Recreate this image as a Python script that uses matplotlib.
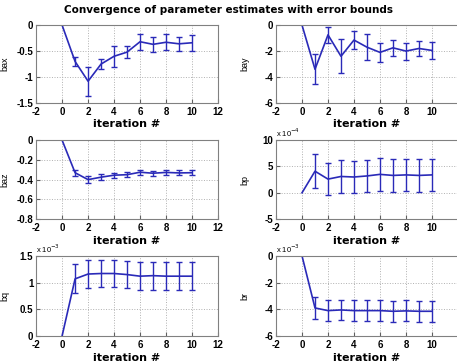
import numpy as np
import matplotlib
matplotlib.use('Agg')
import matplotlib.pyplot as plt

plt.rcParams['font.family'] = ['Liberation Sans', 'DejaVu Sans']

# Dados
it = np.arange(0, 11)

bax = [0, -0.70, -1.08, -0.75, -0.60, -0.52, -0.32, -0.37, -0.33, -0.36, -0.34]
bax_err = [0, 0.09, 0.28, 0.09, 0.20, 0.12, 0.15, 0.15, 0.15, 0.14, 0.15]

bay = [0, -3.4, -0.75, -2.4, -1.15, -1.7, -2.1, -1.75, -2.0, -1.8, -1.95]
bay_err = [0, 1.15, 0.6, 1.3, 0.7, 1.0, 0.75, 0.6, 0.65, 0.6, 0.65]

baz = [0, -0.33, -0.40, -0.375, -0.355, -0.35, -0.325, -0.335, -0.327, -0.332, -0.33]
baz_err = [0, 0.03, 0.035, 0.027, 0.027, 0.025, 0.025, 0.025, 0.025, 0.025, 0.025]

bp = [0, 4.1, 2.6, 3.1, 3.0, 3.2, 3.5, 3.3, 3.4, 3.3, 3.4]      # x 1e-4
bp_err = [0, 3.2, 3.0, 3.1, 3.1, 3.1, 3.1, 3.1, 3.1, 3.1, 3.1]

bq = [0, 1.07, 1.16, 1.17, 1.17, 1.15, 1.12, 1.13, 1.12, 1.12, 1.12]   # x 1e-3
bq_err = [0, 0.27, 0.26, 0.26, 0.26, 0.26, 0.26, 0.26, 0.26, 0.26, 0.26]

br = [0, -3.9, -4.1, -4.05, -4.1, -4.1, -4.1, -4.15, -4.12, -4.15, -4.15]  # x 1e-3
br_err = [0, 0.85, 0.78, 0.78, 0.78, 0.78, 0.78, 0.78, 0.78, 0.78, 0.78]

xticks = [-2, 0, 2, 4, 6, 8, 10, 12]

paineis = [
    ('bax', bax, bax_err, (-1.5, 0), [-1.5, -1, -0.5, 0], ['-1.5', '-1', '-0.5', '0'], None),
    ('bay', bay, bay_err, (-6, 0), [-6, -4, -2, 0], ['-6', '-4', '-2', '0'], None),
    ('baz', baz, baz_err, (-0.8, 0), [-0.8, -0.6, -0.4, -0.2, 0], ['-0.8', '-0.6', '-0.4', '-0.2', '0'], None),
    ('bp', bp, bp_err, (-5, 10), [-5, 0, 5, 10], ['-5', '0', '5', '10'], '-4'),
    ('bq', bq, bq_err, (0, 1.5), [0, 0.5, 1, 1.5], ['0', '0.5', '1', '1.5'], '-3'),
    ('br', br, br_err, (-6, 0), [-6, -4, -2, 0], ['-6', '-4', '-2', '0'], '-3'),
]

posicoes = [
    [0.079, 0.717, 0.398, 0.214], [0.604, 0.717, 0.398, 0.214],
    [0.079, 0.398, 0.398, 0.217], [0.604, 0.398, 0.398, 0.217],
    [0.079, 0.077, 0.398, 0.220], [0.604, 0.077, 0.398, 0.220],
]

cor = '#2a2ab8'
fig = plt.figure(figsize=(4.57, 3.64), dpi=100)

for i, ((nome, y, e, ylim, yt, ytl, exp), pos) in enumerate(zip(paineis, posicoes)):
    ax = fig.add_axes(pos)
    ax.plot(it, y, color=cor, lw=1.2)
    ax.errorbar(it[1:], y[1:], yerr=e[1:], fmt='none', ecolor=cor,
                elinewidth=1.0, capsize=2, capthick=1.0)
    ax.set_xlim(-2, 12)
    ax.set_ylim(*ylim)
    ax.set_xticks(xticks)
    xtl = [str(v) for v in xticks]
    if i % 2 == 1:
        xtl[-1] = ''   # fica fora da imagem na direita
    ax.set_xticklabels(xtl)
    ax.set_yticks(yt)
    ax.set_yticklabels(ytl)
    ax.grid(True, linestyle=':', color='#b0b0b0', lw=0.7)
    ax.tick_params(direction='in', length=3, labelsize=7, color='#606060')
    ax.tick_params(axis='x', pad=3)
    ax.tick_params(axis='y', pad=2)
    for lab in ax.get_xticklabels() + ax.get_yticklabels():
        lab.set_fontweight('bold')
    for s in ax.spines.values():
        s.set_color('#808080')
        s.set_linewidth(0.8)
    ax.set_xlabel('iteration #', fontsize=8, fontweight='bold',
                  family=['DejaVu Sans'])
    ax.xaxis.set_label_coords(0.5, -0.21)
    ax.set_ylabel(nome, fontsize=6.5)
    ax.yaxis.set_label_coords(-0.145, 0.5)
    if exp:
        ax.text(0.0, 1.01, r'x 10$^{%s}$' % exp, transform=ax.transAxes,
                fontsize=5.5, ha='left', va='bottom')

fig.text(0.5, 0.972, 'Convergence of parameter estimates with error bounds',
         ha='center', va='center', fontsize=7.5, fontweight='bold',
         family=['DejaVu Sans'])

fig.savefig('out.png', dpi=100)
